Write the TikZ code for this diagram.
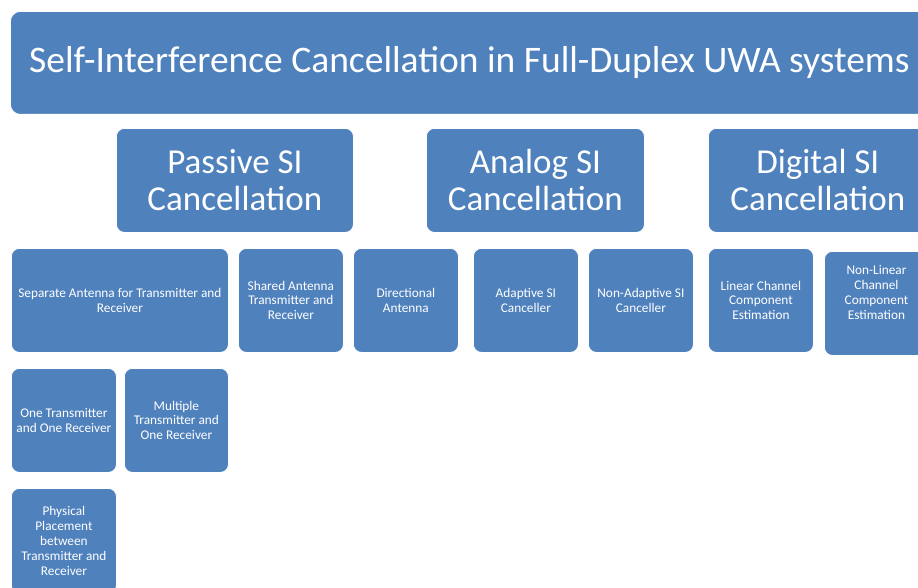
\documentclass[tikz,border=0pt]{standalone}
\usepackage{fontspec}
\setmainfont{Carlito}
\definecolor{boxblue}{RGB}{79,129,189}
\begin{document}
\begin{tikzpicture}[x=1pt, y=-1pt,
  box/.style={rectangle, rounded corners=8pt, fill=boxblue, draw=white,
    line width=0.8pt, text=white, inner sep=0pt, align=center, anchor=north west},
  bigbox/.style={box, minimum height=104pt, font=\fontsize{35}{37}\selectfont},
  smallbox/.style={box, minimum width=105pt, minimum height=104pt,
    font=\fontsize{13.3}{14.8}\selectfont},
  boxtext/.style={text=white, inner sep=0pt, align=center,
    font=\fontsize{13.3}{14.8}\selectfont}]
\useasboundingbox (0,0) rectangle (918,588);
\clip (0,0) rectangle (918,588);

% top level
\node[box, rounded corners=10pt, minimum width=918pt, minimum height=103pt,
  font=\fontsize{37.5}{40}\selectfont] (title) at (10,11)
  {Self-Interference Cancellation in Full-Duplex UWA systems};

% three cancellation domains
\node[bigbox, minimum width=237pt] (passive) at (116,128) {Passive SI\\Cancellation};
\node[bigbox, minimum width=218pt] (analog)  at (426,128) {Analog SI\\Cancellation};
\node[bigbox, minimum width=219pt] (digital) at (708,128) {Digital SI\\Cancellation};

% techniques
\node[smallbox, minimum width=217pt] (separate) at (11,248)
  {Separate Antenna for Transmitter and\\Receiver};
\node[smallbox] (shared)   at (238,248) {Shared Antenna\\Transmitter and\\Receiver};
\node[smallbox] (direct)   at (353,248) {Directional\\Antenna};
\node[smallbox] (adaptive) at (473,248) {Adaptive SI\\Canceller};
\node[smallbox] (nonadapt) at (588,248) {Non-Adaptive SI\\Canceller};
\node[smallbox] (linear)   at (708,248) {Linear Channel\\Component\\Estimation};
\node[smallbox] (nonlinbox) at (824,251) {};
\node[boxtext] (nonlin) at (876.5,292.5)
  {Non-Linear\\Channel\\Component\\Estimation};

% separate-antenna variants
\node[smallbox] (onetx)  at (11,368)  {One Transmitter\\and One Receiver};
\node[smallbox, minimum width=104pt] (multtx) at (124,368)
  {Multiple\\Transmitter and\\One Receiver};
\node[smallbox, minimum height=105pt] (placement) at (11,488)
  {Physical\\Placement\\between\\Transmitter and\\Receiver};
\end{tikzpicture}
\end{document}
